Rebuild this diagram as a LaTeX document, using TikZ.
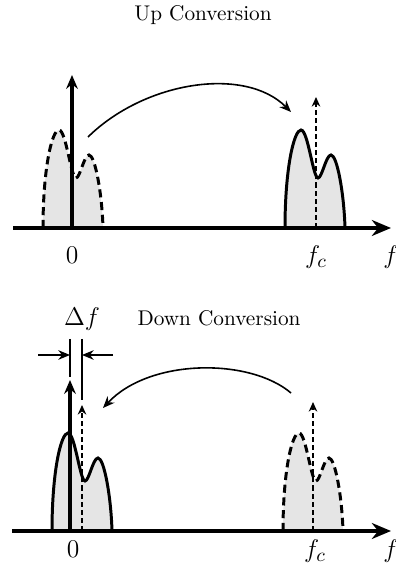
\documentclass[tikz,border=0pt]{standalone}
\usepackage{amsmath}
\usetikzlibrary{arrows.meta}

\begin{document}
\begin{tikzpicture}[
      x=0.47pt, y=0.47pt, >=Stealth,
      axis/.style={line width=1.6pt, -{Stealth[length=9pt,width=7.5pt]}},
      tone/.style={line width=1.5pt, -{Stealth[length=6.5pt,width=5.5pt]}},
      ghost/.style={line width=0.75pt, dash pattern=on 2.4pt off 1.4pt,
                    -{Stealth[length=4.5pt,width=4pt]}},
      move/.style={line width=0.75pt, -{Stealth[length=5.5pt,width=4.5pt]}},
      band/.style={draw, fill=black!10, line width=1.4pt},
      gone/.style={band, dash pattern=on 3.8pt off 2.2pt},
      lbl/.style={font=\fontsize{13}{15}\selectfont, anchor=base, inner sep=0pt},
      spec/.pic={
        \path[pic actions] (0,0) .. controls (0,60) and (9,98) .. (16,98)
          .. controls (23,98) and (28,50) .. (33,50)
          .. controls (37,50) and (41,73) .. (46,73)
          .. controls (52,73) and (59,35) .. (60,0);
      },
    ]
    \useasboundingbox (0,0) rectangle (395,569);

    % up conversion
    \node[anchor=base] (uptitle) at (203,548) {Up Conversion};
    \coordinate (ustart) at (13,341);
    \coordinate (uend) at (391,341);
    \coordinate (uzero) at (72,341);
    \coordinate (uzerotop) at (72,494);
    \coordinate (ufc) at (316,341);
    \coordinate (ufctop) at (316,472);
    \coordinate (ufrom) at (88,432);
    \coordinate (uto) at (291,457);

    \pic[gone] at (43,341) {spec};
    \pic[band] at (285,341) {spec};
    \draw[axis] (ustart) -- (uend);
    \draw[tone] (uzero) -- (uzerotop);
    \draw[ghost] (ufc) -- (ufctop);
    \draw[move] (ufrom) .. controls (145,488) and (245,503) .. (uto);

    \node[lbl] (uzlbl) at (72,305) {$0$};
    \node[lbl] (ufclbl) at (316,305) {$f_c$};
    \node[lbl] (uflbl) at (391,305) {$f$};

    % down conversion
    \node[anchor=base west] (downtitle) at (130,243) {Down Conversion};
    \node[lbl] (dflbl) at (82,243) {$\Delta f$};
    \coordinate (dstart) at (12,38);
    \coordinate (dend) at (391,38);
    \coordinate (dzero) at (70,38);
    \coordinate (dzerotop) at (70,189);
    \coordinate (dshift) at (82,38);
    \coordinate (dshifttop) at (82,164);
    \coordinate (dfc) at (313,38);
    \coordinate (dfctop) at (313,167);
    \coordinate (dfrom) at (291,176);
    \coordinate (dto) at (103,161);

    \pic[band] at (52,38) {spec};
    \pic[gone] at (283,38) {spec};
    \draw[axis] (dstart) -- (dend);
    \draw[tone] (dzero) -- (dzerotop);
    \draw[ghost] (dshift) -- (dshifttop);
    \draw[ghost] (dfc) -- (dfctop);
    \draw[move] (dfrom) .. controls (250,211) and (150,211) .. (dto);

    % width of the offset
    \coordinate (ltop) at (70,230);
    \coordinate (lbot) at (70,192);
    \coordinate (rtop) at (82,230);
    \coordinate (rbot) at (82,169);
    \coordinate (lout) at (38,214);
    \coordinate (lin) at (70,214);
    \coordinate (rout) at (113,214);
    \coordinate (rin) at (82,214);
    \draw[line width=0.75pt] (ltop) -- (lbot);
    \draw[line width=0.75pt] (rtop) -- (rbot);
    \draw[move] (lout) -- (lin);
    \draw[move] (rout) -- (rin);

    \node[lbl] (dzlbl) at (73,11) {$0$};
    \node[lbl] (dfclbl) at (315,11) {$f_c$};
    \node[lbl] (dflbl2) at (391,11) {$f$};
  \end{tikzpicture}
\end{document}
